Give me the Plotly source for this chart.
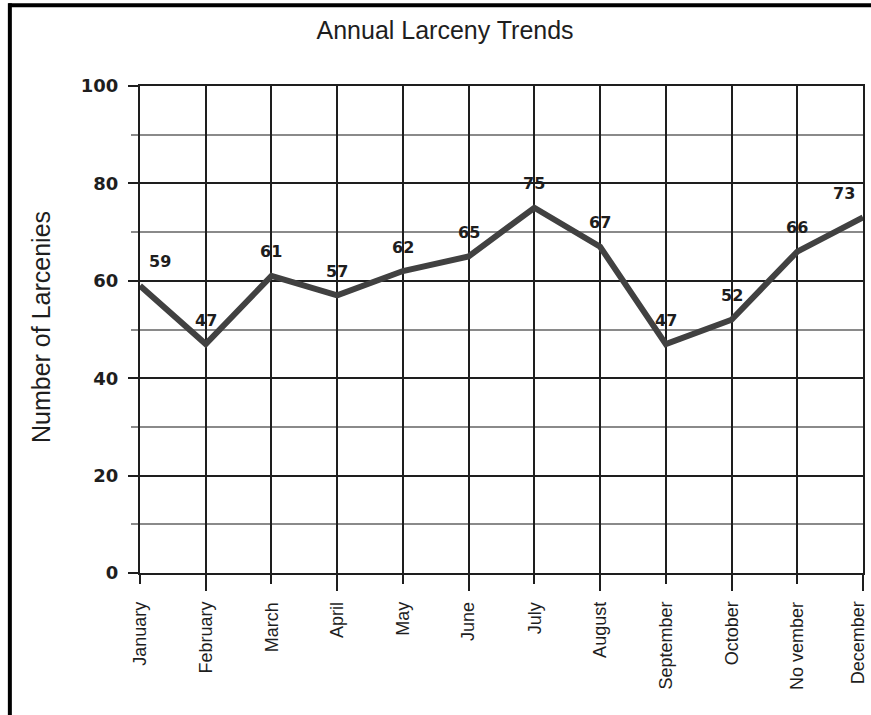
import plotly.graph_objects as go

months = ["January", "February", "March", "April", "May", "June", "July",
          "August", "September", "October", "No vember", "December"]
larcenies = [59, 47, 61, 57, 62, 65, 75, 67, 47, 52, 66, 73]

# horizontal nudge of each value label (pixels); edge labels are pulled inward
label_xshift = [20, 0, 0, 0, 0, 0, 0, 0, 0, 0, 0, -19]
# horizontal nudge of the month labels; the last one is kept inside the page
month_xshift = [0, 0, 0, 0, 0, 0, 0, 0, 0, 0, 0, -5]

FONT = "Liberation Sans, Arial, sans-serif"
BOLD = "DejaVu Sans, Verdana, sans-serif"
INK = "#1e1e1e"

fig = go.Figure()
fig.add_trace(go.Scatter(
    x=months, y=larcenies, mode="lines",
    line=dict(color="#414141", width=6),
    hoverinfo="skip", showlegend=False,
))
# invisible companion trace so the overlay axis (long alternate ticks) is drawn
fig.add_trace(go.Scatter(
    x=months, y=larcenies, mode="lines", xaxis="x2",
    line=dict(color="rgba(0,0,0,0)", width=0),
    hoverinfo="skip", showlegend=False,
))

for m, v, dx in zip(months, larcenies, label_xshift):
    fig.add_annotation(
        x=m, y=v, text=str(v), showarrow=False,
        xshift=dx, yshift=24,
        font=dict(family=BOLD, size=16, color=INK, weight="bold"),
    )

# vertical month labels under the axis
for m, dx in zip(months, month_xshift):
    fig.add_annotation(
        x=m, xref="x", yref="paper", y=-0.055, text=m, textangle=-90,
        showarrow=False, xanchor="center", yanchor="top", xshift=dx,
        font=dict(family=FONT, size=18, color=INK),
    )

# y-axis title, placed beside the tick labels
fig.add_annotation(
    text="Number of Larcenies", textangle=-90, showarrow=False,
    xref="paper", yref="paper", x=-0.137, y=0.505,
    xanchor="center", yanchor="middle",
    font=dict(family=FONT, size=25, color=INK),
)

fig.update_layout(
    width=871, height=715,
    margin=dict(l=140, r=8, t=86, b=142),
    paper_bgcolor="white", plot_bgcolor="white",
    title=dict(text="Annual Larceny Trends", x=0.511, xanchor="center",
               y=0.958, yanchor="middle",
               font=dict(family=FONT, size=25, color=INK)),
    xaxis=dict(
        type="category", categoryorder="array", categoryarray=months,
        range=[0, 11], automargin=False,
        showgrid=True, gridcolor=INK, gridwidth=2,
        showline=True, mirror=True, linecolor=INK, linewidth=2,
        zeroline=False,
        ticks="outside", ticklen=9, tickwidth=2, tickcolor=INK,
        showticklabels=False,
    ),
    xaxis2=dict(
        type="category", categoryorder="array", categoryarray=months,
        range=[0, 11], overlaying="x", anchor="y", side="bottom",
        tickvals=months[1::2], automargin=False,
        showgrid=False, showline=False, zeroline=False,
        ticks="outside", ticklen=17, tickwidth=2, tickcolor=INK,
        showticklabels=False,
    ),
    yaxis=dict(
        range=[0, 100], tickvals=[0, 20, 40, 60, 80, 100], automargin=False,
        showgrid=True, gridcolor=INK, gridwidth=2,
        showline=True, mirror=True, linecolor=INK, linewidth=2,
        zeroline=False,
        ticks="outside", ticklen=10, tickwidth=2, tickcolor=INK,
        tickfont=dict(family=BOLD, size=18, color=INK, weight="bold"),
        ticklabelstandoff=6,
        minor=dict(tickvals=[10, 30, 50, 70, 90], showgrid=True,
                   gridcolor="#8a8a8a", gridwidth=1.5,
                   ticks="outside", ticklen=7, tickwidth=1.5,
                   tickcolor="#8a8a8a"),
    ),
    shapes=[
        # page frame: top rule and left rule
        dict(type="line", xref="paper", yref="paper",
             x0=-0.182, x1=1.02, y0=1.166, y1=1.166,
             line=dict(color="black", width=4)),
        dict(type="line", xref="paper", yref="paper",
             x0=-0.18, x1=-0.18, y0=1.17, y1=-0.3,
             line=dict(color="black", width=4)),
    ],
)

fig.write_html("out.html")
